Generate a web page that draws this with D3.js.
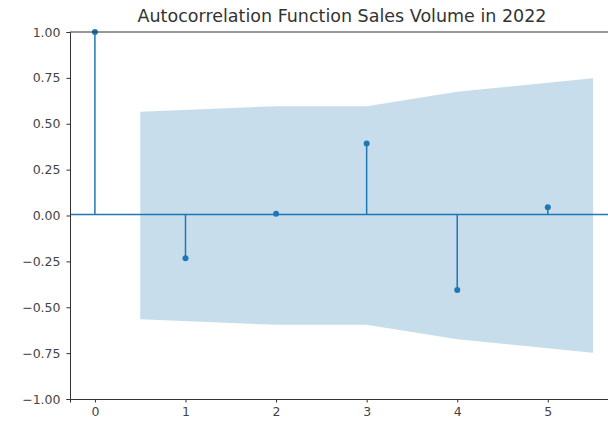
<!DOCTYPE html>
<html><head><meta charset="utf-8">
<script src="https://cdn.jsdelivr.net/npm/d3@7"></script>
<style>body{margin:0;background:#fff;} svg{display:block;}</style>
</head><body>
<svg id="c" width="608" height="425"></svg>
<script>
const lags = [0, 1, 2, 3, 4, 5];
const acfValues = [1.0, -0.233, 0.01, 0.393, -0.406, 0.045];
const bandX = [0.5, 2, 3, 4, 5.5];
const bandHalf = [0.566, 0.596, 0.596, 0.674, 0.748];
const yTicks = [1.0, 0.75, 0.5, 0.25, 0.0, -0.25, -0.5, -0.75, -1.0];
const xTicks = [0, 1, 2, 3, 4, 5];
const title = "Autocorrelation Function Sales Volume in 2022";

const svg = d3.select("#c");
const L = 70, R = 618, T = 32, B = 399;
const x = d3.scaleLinear().domain([-0.275, 5.775]).range([L, R]);
const y = d3.scaleLinear().domain([-1, 1]).range([B, T]);
const C0 = "#1f77b4";
const font = "DejaVu Sans, sans-serif";

// band
const band = bandX.map((v, i) => ({x: v, h: bandHalf[i]}));
svg.append("path")
  .attr("d", d3.area().x(d => x(d.x)).y0(d => y(-d.h)).y1(d => y(d.h))(band))
  .attr("fill", C0).attr("fill-opacity", 0.25);

// zero line
svg.append("line").attr("x1", L).attr("x2", R).attr("y1", y(0) - 1).attr("y2", y(0) - 1)
  .attr("stroke", C0).attr("stroke-width", 1.3);

// stems
svg.selectAll(".stem").data(lags).enter().append("line")
  .attr("x1", d => x(d)).attr("x2", d => x(d))
  .attr("y1", y(0) - 1).attr("y2", (d, i) => y(acfValues[i]))
  .attr("stroke", C0).attr("stroke-width", 1.5);
svg.selectAll(".pt").data(lags).enter().append("circle")
  .attr("cx", d => x(d)).attr("cy", (d, i) => y(acfValues[i]))
  .attr("r", 3).attr("fill", C0);

// axes
const ax = d3.axisBottom(x).tickValues(xTicks).tickFormat(d3.format("d")).tickSize(3.5).tickPadding(5);
const gx = svg.append("g").attr("transform", `translate(0,${B})`).call(ax);
const ay = d3.axisLeft(y).tickValues(yTicks).tickFormat(d => d3.format(".2f")(d).replace("-", "\u2212")).tickSize(3.5).tickPadding(6);
const gy = svg.append("g").attr("transform", `translate(${L},0)`).call(ay);
[gx, gy].forEach(g => {
  g.select(".domain").attr("stroke", "#333").attr("stroke-width", 1);
  g.selectAll(".tick line").attr("stroke", "#333");
  g.selectAll(".tick text").attr("fill", "#444").style("font-family", font).style("font-size", "12.5px");
});
// top spine
svg.append("line").attr("x1", L).attr("x2", R).attr("y1", T).attr("y2", T).attr("stroke", "#333").attr("stroke-width", 1);

svg.append("text").attr("x", 342).attr("y", 22).attr("text-anchor", "middle")
  .style("font-family", font).style("font-size", "17.5px").attr("fill", "#333").text(title);
</script>
</body></html>
